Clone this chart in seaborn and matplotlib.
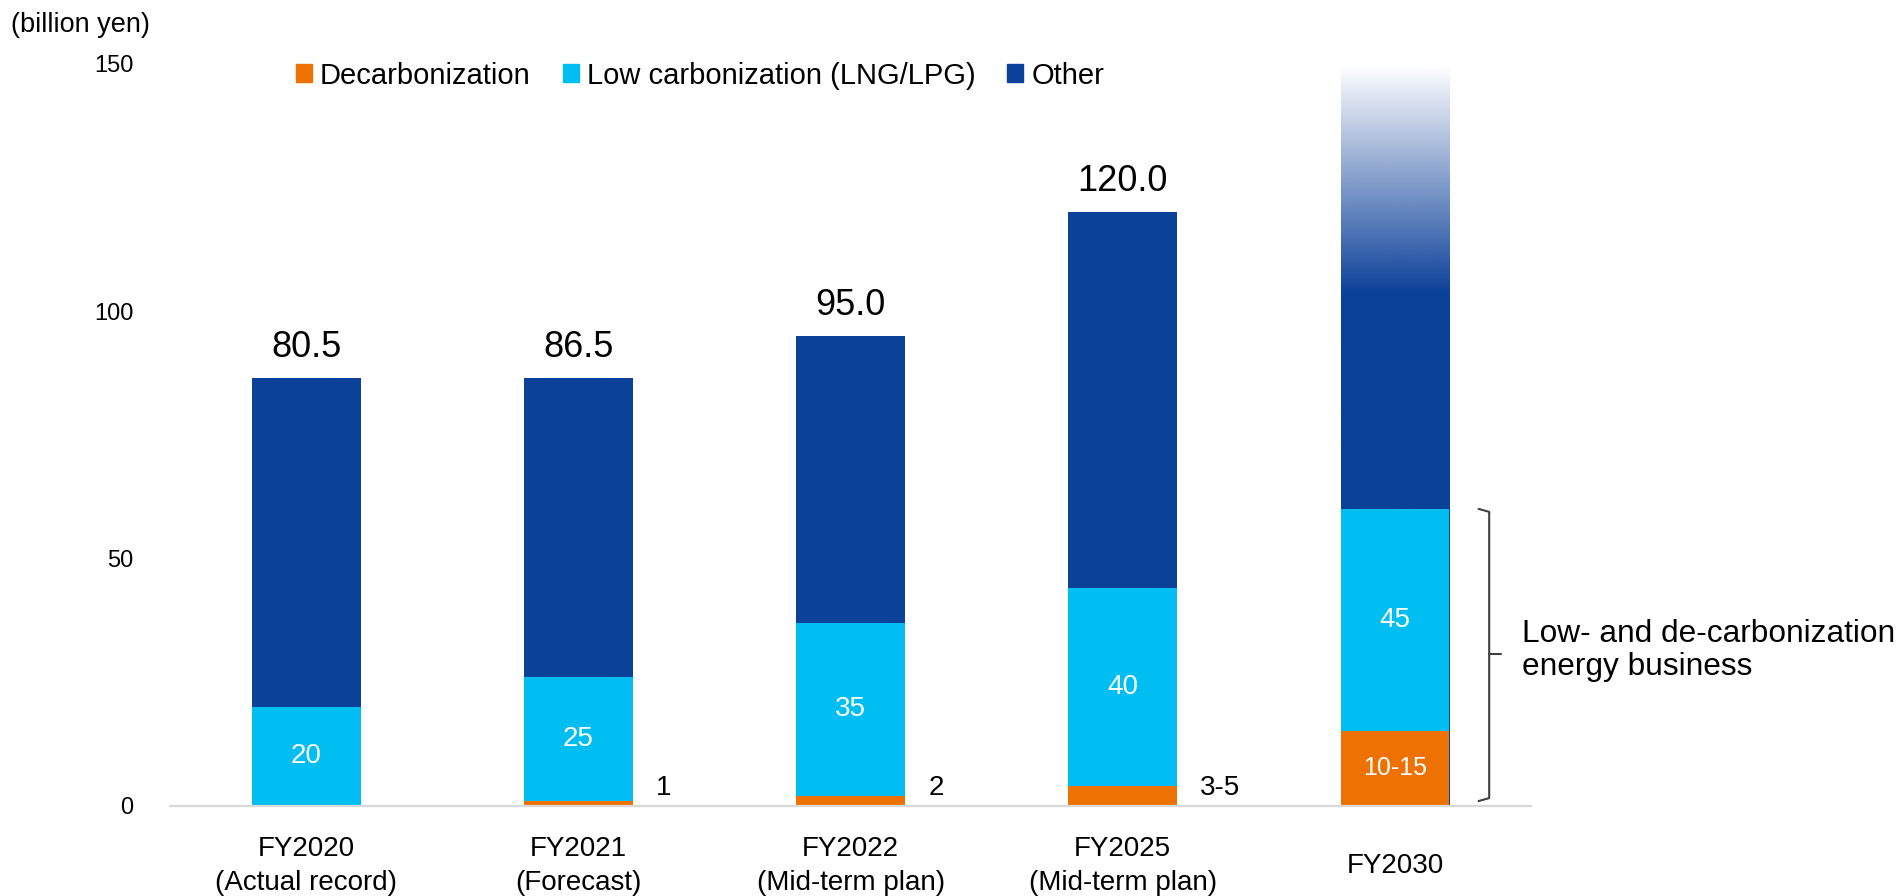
import matplotlib.pyplot as plt
import numpy as np
import pandas as pd
import seaborn as sns
from matplotlib.colors import to_rgb
from matplotlib.patches import Patch

# data (billion yen)
categories = [
    "FY2020\n(Actual record)",
    "FY2021\n(Forecast)",
    "FY2022\n(Mid-term plan)",
    "FY2025\n(Mid-term plan)",
    "FY2030",
]
decarb = [0, 1, 2, 4, 15]
low_carb = [20, 25, 35, 40, 45]
bar_top = [86.5, 86.5, 95, 120, 150]
total_labels = ["80.5", "86.5", "95.0", "120.0", ""]
decarb_labels = ["", "1", "2", "3-5", "10-15"]
fade_from = 104  # FY2030 "Other" fades out above this value

c_decarb = "#EE7203"
c_low = "#00BEF2"
c_other = "#0C4199"

sns.set_style("white")
plt.rcParams["font.family"] = ["Liberation Sans", "DejaVu Sans"]
plt.rcParams["text.color"] = "black"
plt.rcParams["xtick.color"] = "black"
plt.rcParams["ytick.color"] = "black"

df = pd.DataFrame(
    {
        "year": categories,
        "decarb": decarb,
        "low": np.add(decarb, low_carb),
        "other": bar_top,
    }
)

fig = plt.figure(figsize=(19.02, 8.96), dpi=100)
ax = fig.add_axes([0.0894, 0.101, 0.7156, 0.8276])

# stacked bars drawn as layered cumulative bars
for col, c in [("other", c_other), ("low", c_low), ("decarb", c_decarb)]:
    sns.barplot(data=df, x="year", y=col, color=c, width=0.4, saturation=1,
                linewidth=0, ax=ax)

# FY2030 "Other" bar fades to white at the top
p = ax.patches[4]
p.set_visible(False)
ys = np.linspace(0, p.get_height(), 400)
grad = np.zeros((len(ys), 1, 4))
grad[..., :3] = to_rgb(c_other)
grad[:, 0, 3] = np.clip((p.get_height() - ys) / (p.get_height() - fade_from), 0, 1)
ax.imshow(grad, extent=[p.get_x(), p.get_x() + p.get_width(), 0, p.get_height()],
          origin="lower", aspect="auto", interpolation="bilinear", zorder=0.5)

# labels
for i in range(len(categories)):
    if total_labels[i]:
        ax.text(i, bar_top[i] + 4.3, total_labels[i], ha="center", va="baseline",
                fontsize=26)
    ax.text(i, decarb[i] + low_carb[i] / 2, str(low_carb[i]), ha="center",
            va="center", fontsize=20, color="white")
for i in range(1, 4):
    ax.text(i + 0.285, 2.2, decarb_labels[i], ha="left", va="baseline", fontsize=20)
ax.text(4, decarb[4] / 2, decarb_labels[4], ha="center", va="center", fontsize=18,
        color="white")

# bracket for low- and de-carbonization
top = decarb[4] + low_carb[4]
mid = top / 2 + 0.7
ax.plot([4.307, 4.346, 4.346, 4.307], [top, top - 0.6, 1.5, 0.9], color="#404040",
        lw=1.5, clip_on=False)
ax.plot([4.346, 4.39], [mid, mid], color="#404040", lw=1.5, clip_on=False)
ax.text(4.467, mid + 0.6, "Low- and de-carbonization\nenergy business", ha="left",
        va="center", fontsize=22.8, linespacing=1.15, clip_on=False)

ax.set_xlim(-0.5, 4.5)
ax.set_ylim(0, 150)
ax.set_yticks([0, 50, 100, 150])
ax.tick_params(axis="y", length=0, pad=26.5, labelsize=17)
ax.tick_params(axis="x", length=0, pad=43.5, labelsize=20)
ax.set_xticks(range(len(categories)), categories, va="center", linespacing=1.4)
ax.set_xlabel("")
ax.set_ylabel("")
sns.despine(ax=ax, left=True)
ax.spines["bottom"].set_color("#D9D9D9")
ax.spines["bottom"].set_linewidth(1.6)

fig.text(11 / 1902, 0.972, "(billion yen)", ha="left", va="center", fontsize=19.5)

handles = [Patch(color=c_decarb), Patch(color=c_low), Patch(color=c_other)]
fig.legend(handles, ["Decarbonization", "Low carbonization (LNG/LPG)", "Other"],
           ncol=3, loc="center left", bbox_to_anchor=(296 / 1902, 1 - 75.5 / 896),
           frameon=False, fontsize=21, handlelength=0.55, handleheight=0.55,
           handletextpad=0.27, columnspacing=1.1, borderpad=0, borderaxespad=0)

fig.savefig("out.png", dpi=100)
